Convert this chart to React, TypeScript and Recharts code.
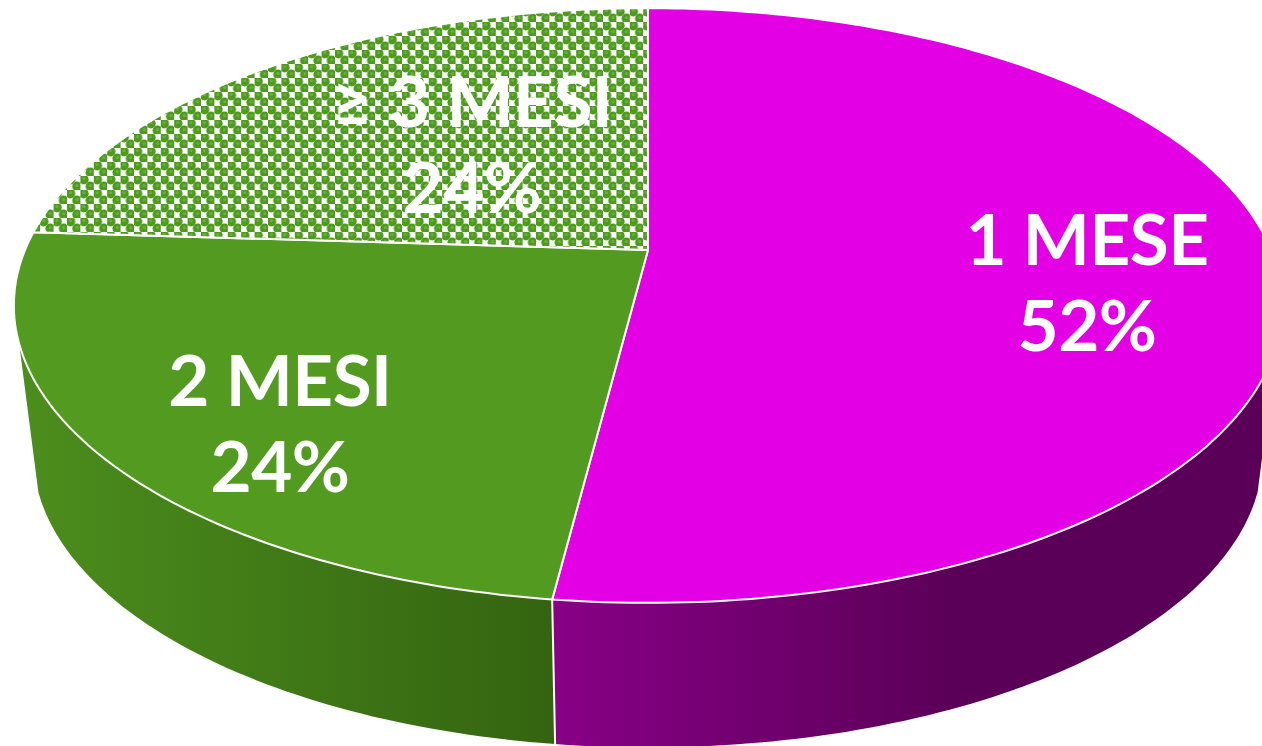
import React from "react";
import { PieChart, Pie } from "recharts";

const sliceNames = ["1 MESE", "2 MESI", "≥ 3 MESI"];
const sliceValues = [52, 24, 24];
const sliceColors = ["#E400E4", "#539B20", "url(#dots)"];
const wallColors = ["url(#purpleWall)", "url(#greenWall)", "none"];

const chartData = sliceNames.map((name, i) => ({
  name,
  value: sliceValues[i],
  fill: sliceColors[i],
  wall: wallColors[i],
}));

// label centre and baseline of first line, picture px
const labelSpots = [
  { x: 1087, y: 265 },
  { x: 280, y: 406 },
  { x: 472, y: 127 },
];

// perspective of the top face and of the bottom rim
const TOP = { cx: 648, cy: 250, a: 623, b: 287, p: 0.1866 };
const RIM = { cx: 648, cy: 399.5, a: 604, b: 283, p: 0.1866 };

type Plane = typeof TOP;

function project(plane: Plane, deg: number) {
  const rad = (deg * Math.PI) / 180;
  const u = Math.cos(rad);
  const v = -Math.sin(rad);
  const w = 1 - plane.p * v;
  return [plane.cx + (plane.a * u) / w, plane.cy + (plane.b * v) / w];
}

function arcPoints(plane: Plane, from: number, to: number) {
  const steps = Math.max(2, Math.ceil(Math.abs(to - from)));
  const pts: number[][] = [];
  for (let i = 0; i <= steps; i++) pts.push(project(plane, from + ((to - from) * i) / steps));
  return pts;
}

const toPath = (pts: number[][]) =>
  pts.map((p, i) => `${i ? "L" : "M"}${p[0].toFixed(1)},${p[1].toFixed(1)}`).join(" ");

function TopSlice(props: any) {
  const { startAngle, endAngle, fill } = props;
  const d = `${toPath([[TOP.cx, TOP.cy], ...arcPoints(TOP, startAngle, endAngle)])} Z`;
  return <path d={d} fill={fill} stroke="#fff" strokeWidth={2} strokeLinejoin="round" />;
}

// side wall only exists on the front half of the disc
function WallSlice(props: any) {
  const { startAngle, endAngle, payload, wall } = props;
  const paint = wall ?? payload?.wall;
  const from = Math.min(startAngle, -18);
  const to = Math.max(endAngle, -162);
  if (paint === "none" || from <= to) return <g />;
  const top = arcPoints(TOP, from, to);
  const low = arcPoints(RIM, to, from);
  const a = project(TOP, from);
  const b = project(RIM, from);
  return (
    <g>
      <path d={`${toPath([...top, ...low])} Z`} fill={paint} />
      {startAngle < 0 && <path d={`M${a[0]},${a[1]} L${b[0]},${b[1]}`} stroke="#fff" strokeWidth={2} />}
    </g>
  );
}

function SliceLabel(props: any) {
  const spot = labelSpots[props.index];
  return (
    <text
      x={spot.x}
      y={spot.y}
      fill="#fff"
      textAnchor="middle"
      fontFamily="Lato, sans-serif"
      fontWeight={700}
      fontSize={71}
      letterSpacing={-0.5}
    >
      <tspan x={spot.x}>{props.name}</tspan>
      <tspan x={spot.x} dy={86}>{`${props.value}%`}</tspan>
    </text>
  );
}

export default function App() {
  return (
    <div style={{ position: "absolute", left: 0, top: 0, width: 1262, height: 746, overflow: "hidden", background: "#fff" }}>
      <PieChart width={1262} height={746} margin={{ top: 0, right: 0, bottom: 0, left: 0 }}>
        <defs>
          <pattern id="dots" width={13.4} height={14} patternUnits="userSpaceOnUse" x={0} y={8}>
            <rect width={13.4} height={14} fill="#fff" />
            <circle cx={3.4} cy={3.5} r={4.9} fill="#4E9A1F" />
            <circle cx={10.1} cy={10.5} r={4.9} fill="#4E9A1F" />
            <circle cx={3.4} cy={2.6} r={1.6} fill="#68B03A" />
            <circle cx={10.1} cy={9.6} r={1.6} fill="#68B03A" />
          </pattern>
          <linearGradient id="purpleWall" gradientUnits="userSpaceOnUse" x1={552} y1={0} x2={960} y2={0}>
            <stop offset="0" stopColor="#880086" />
            <stop offset="1" stopColor="#5A0058" />
          </linearGradient>
          <linearGradient id="greenWall" gradientUnits="userSpaceOnUse" x1={18} y1={0} x2={552} y2={0}>
            <stop offset="0" stopColor="#4C8E1D" />
            <stop offset="1" stopColor="#346410" />
          </linearGradient>
        </defs>
        <Pie
          data={chartData}
          dataKey="value"
          nameKey="name"
          cx={648}
          cy={250}
          outerRadius={287}
          startAngle={90}
          endAngle={-270}
          shape={WallSlice}
          inactiveShape={WallSlice}
          activeShape={WallSlice}
          isAnimationActive={false}
          stroke="none"
        />
        <Pie
          data={chartData}
          dataKey="value"
          nameKey="name"
          cx={648}
          cy={250}
          outerRadius={287}
          startAngle={90}
          endAngle={-270}
          shape={TopSlice}
          inactiveShape={TopSlice}
          activeShape={TopSlice}
          isAnimationActive={false}
          label={SliceLabel}
          labelLine={false}
        />
      </PieChart>
    </div>
  );
}
